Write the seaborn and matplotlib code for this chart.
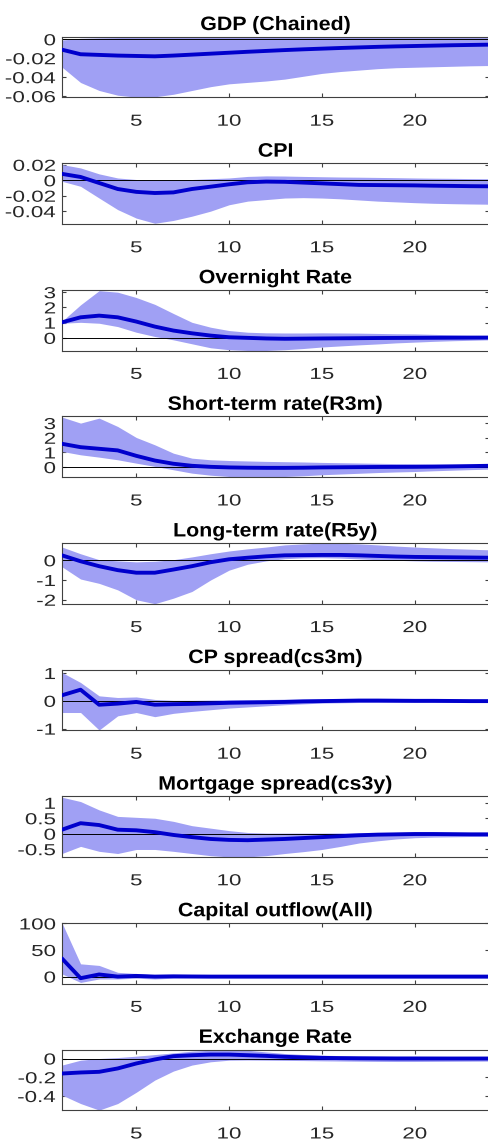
import numpy as np
import pandas as pd
import matplotlib
matplotlib.use("Agg")
import matplotlib.pyplot as plt
from matplotlib.patheffects import AbstractPathEffect
from matplotlib.transforms import Affine2D
from matplotlib.ticker import FuncFormatter
import seaborn as sns

# ---------------------------------------------------------------- data
horizon = list(range(1, 25))

titles = [
    "GDP (Chained)", "CPI", "Overnight Rate", "Short-term rate(R3m)",
    "Long-term rate(R5y)", "CP spread(cs3m)", "Mortgage spread(cs3y)",
    "Capital outflow(All)", "Exchange Rate",
]

gdp_mid = [-0.011, -0.0158, -0.0165, -0.0172, -0.0176, -0.018, -0.0172, -0.0162,
           -0.0152, -0.0142, -0.0132, -0.0123, -0.0114, -0.0106, -0.0099, -0.0092,
           -0.0086, -0.008, -0.0075, -0.0071, -0.0067, -0.0063, -0.006, -0.0057]
gdp_lo = [-0.0294, -0.0456, -0.054, -0.059, -0.061, -0.0607, -0.058, -0.054,
          -0.050, -0.047, -0.0455, -0.044, -0.042, -0.039, -0.036, -0.034,
          -0.0325, -0.031, -0.030, -0.0295, -0.029, -0.0285, -0.028, -0.0277]
gdp_hi = [-0.0008, 0.001, 0.0015, 0.0018, 0.002, 0.002, 0.002, 0.002,
          0.002, 0.0022, 0.0022, 0.0023, 0.0024, 0.0024, 0.0025, 0.0025,
          0.0025, 0.0024, 0.0024, 0.0023, 0.0023, 0.0022, 0.0022, 0.0021]

cpi_mid = [0.0083, 0.0043, -0.0035, -0.0113, -0.015, -0.0165, -0.0157, -0.0113,
           -0.0083, -0.0052, -0.0026, -0.0017, -0.002, -0.003, -0.004, -0.005,
           -0.006, -0.0062, -0.0064, -0.0066, -0.007, -0.0073, -0.0076, -0.0078]
cpi_lo = [-0.0013, -0.0078, -0.023, -0.038, -0.049, -0.0557, -0.052, -0.0465,
          -0.040, -0.0317, -0.027, -0.025, -0.023, -0.0225, -0.023, -0.024,
          -0.0255, -0.027, -0.028, -0.029, -0.0298, -0.0303, -0.0307, -0.031]
cpi_hi = [0.0204, 0.016, 0.0083, 0.003, 0.001, 0.0, 0.0005, 0.001,
          0.002, 0.003, 0.005, 0.0057, 0.0055, 0.005, 0.0046, 0.0042,
          0.004, 0.0037, 0.0034, 0.003, 0.0027, 0.0025, 0.0022, 0.002]

onr_mid = [1.02, 1.35, 1.46, 1.35, 1.07, 0.74, 0.48, 0.30, 0.15, 0.04, 0.0, -0.04,
           -0.06, -0.05, -0.04, -0.03, -0.02, -0.01, -0.005, 0.0, 0.005, 0.01, 0.015, 0.02]
onr_lo = [0.96, 1.02, 0.96, 0.74, 0.37, 0.09, -0.13, -0.39, -0.65, -0.78, -0.83, -0.83,
          -0.78, -0.7, -0.6, -0.53, -0.46, -0.4, -0.33, -0.28, -0.23, -0.19, -0.16, -0.13]
onr_hi = [1.09, 2.17, 3.1, 3.0, 2.65, 2.2, 1.6, 1.02, 0.7, 0.48, 0.37, 0.33,
          0.32, 0.32, 0.33, 0.32, 0.31, 0.29, 0.27, 0.26, 0.23, 0.2, 0.17, 0.15]

r3m_mid = [1.59, 1.36, 1.25, 1.14, 0.77, 0.45, 0.23, 0.09, 0.02, -0.02, -0.04, -0.05,
           -0.05, -0.04, -0.02, -0.01, 0.0, 0.01, 0.015, 0.02, 0.03, 0.05, 0.07, 0.09]
r3m_lo = [1.07, 0.84, 0.68, 0.5, 0.27, 0.05, -0.18, -0.41, -0.55, -0.64, -0.66, -0.66,
          -0.64, -0.59, -0.52, -0.47, -0.42, -0.37, -0.33, -0.3, -0.25, -0.21, -0.17, -0.14]
r3m_hi = [3.41, 3.0, 3.34, 2.77, 2.02, 1.52, 0.95, 0.61, 0.5, 0.45, 0.42, 0.39,
          0.37, 0.35, 0.32, 0.3, 0.28, 0.26, 0.24, 0.23, 0.22, 0.2, 0.19, 0.18]

r5y_mid = [0.25, -0.05, -0.3, -0.5, -0.63, -0.63, -0.47, -0.3, -0.1, 0.05, 0.13, 0.2,
           0.25, 0.26, 0.27, 0.27, 0.25, 0.22, 0.19, 0.17, 0.16, 0.15, 0.14, 0.13]
r5y_lo = [-0.33, -0.95, -1.17, -1.5, -2.0, -2.2, -1.92, -1.58, -1.0, -0.5, -0.2, -0.03,
          0.08, 0.12, 0.13, 0.11, 0.07, 0.03, 0.0, -0.03, -0.05, -0.06, -0.07, -0.08]
r5y_hi = [0.67, 0.33, 0.03, -0.03, -0.08, -0.05, 0.03, 0.17, 0.33, 0.47, 0.58, 0.67,
          0.78, 0.83, 0.87, 0.86, 0.83, 0.78, 0.72, 0.67, 0.63, 0.59, 0.56, 0.53]

cp_mid = [0.2, 0.4, -0.14, -0.1, -0.04, -0.14, -0.12, -0.11, -0.09, -0.07, -0.06, -0.05,
          -0.04, -0.02, -0.01, 0.0, 0.01, 0.01, 0.005, 0.0, 0.0, -0.005, -0.01, -0.01]
cp_lo = [-0.42, -0.42, -1.05, -0.54, -0.42, -0.57, -0.45, -0.38, -0.32, -0.26, -0.22, -0.18,
         -0.14, -0.11, -0.08, -0.07, -0.06, -0.06, -0.06, -0.06, -0.06, -0.06, -0.06, -0.06]
cp_hi = [1.02, 0.66, 0.18, 0.12, 0.14, 0.05, 0.02, 0.02, 0.03, 0.04, 0.045, 0.05,
         0.06, 0.065, 0.07, 0.07, 0.07, 0.07, 0.07, 0.07, 0.065, 0.06, 0.055, 0.05]

mtg_mid = [0.13, 0.34, 0.28, 0.13, 0.11, 0.05, -0.04, -0.11, -0.17, -0.2, -0.21, -0.19,
           -0.17, -0.14, -0.11, -0.08, -0.05, -0.03, -0.02, -0.01, -0.01, -0.015, -0.02, -0.02]
mtg_lo = [-0.64, -0.41, -0.57, -0.64, -0.51, -0.51, -0.57, -0.64, -0.71, -0.75, -0.75, -0.71,
          -0.64, -0.58, -0.51, -0.41, -0.3, -0.23, -0.17, -0.13, -0.11, -0.1, -0.09, -0.09]
mtg_hi = [1.18, 1.04, 0.77, 0.56, 0.53, 0.5, 0.4, 0.26, 0.18, 0.1, 0.04, 0.02,
          0.02, 0.02, 0.02, 0.025, 0.03, 0.03, 0.04, 0.05, 0.05, 0.045, 0.04, 0.04]

cap_mid = [34, -3, 4, 0, 1.3, 0, 0.5, 0.2, 0, 0, 0, 0,
           0, 0, 0, 0, 0, 0, 0, 0, 0, 0, 0, 0]
cap_lo = [5, -11, -4.5, -4.5, -3, -4.5, -3, -2.5, -2.5, -2.5, -2.5, -2.5,
          -2.5, -2.5, -2.5, -2.5, -2.5, -2.5, -2.5, -2.5, -2.5, -2.5, -2.5, -2.5]
cap_hi = [101, 24, 21, 8, 5.8, 3.2, 3, 3, 3, 3, 3, 3,
          3, 3, 3, 3, 3, 3, 3, 3, 3, 3, 3, 3]

fx_mid = [-0.16, -0.149, -0.142, -0.106, -0.053, -0.01, 0.025, 0.035, 0.042, 0.042, 0.035, 0.028,
          0.018, 0.012, 0.007, 0.004, 0.002, 0.001, 0.0, 0.0, 0.0, 0.0, 0.0, 0.0]
fx_lo = [-0.39, -0.48, -0.55, -0.48, -0.36, -0.23, -0.134, -0.07, -0.035, -0.018, -0.016, -0.018,
         -0.02, -0.022, -0.025, -0.027, -0.029, -0.031, -0.032, -0.032, -0.031, -0.03, -0.029, -0.028]
fx_hi = [-0.07, -0.018, 0.0, 0.01, 0.025, 0.042, 0.06, 0.078, 0.088, 0.095, 0.088, 0.07,
         0.053, 0.043, 0.035, 0.031, 0.028, 0.026, 0.025, 0.025, 0.023, 0.021, 0.019, 0.018]

mids = [gdp_mid, cpi_mid, onr_mid, r3m_mid, r5y_mid, cp_mid, mtg_mid, cap_mid, fx_mid]
lows = [gdp_lo, cpi_lo, onr_lo, r3m_lo, r5y_lo, cp_lo, mtg_lo, cap_lo, fx_lo]
highs = [gdp_hi, cpi_hi, onr_hi, r3m_hi, r5y_hi, cp_hi, mtg_hi, cap_hi, fx_hi]

y_limits = [(-0.0612, 0.0027), (-0.0565, 0.022), (-0.83, 3.15), (-0.68, 3.45),
            (-2.2, 0.87), (-1.06, 1.12), (-0.75, 1.21), (-13, 101), (-0.55, 0.096)]
y_ticks = [[-0.06, -0.04, -0.02, 0], [-0.04, -0.02, 0, 0.02], [0, 1, 2, 3], [0, 1, 2, 3],
           [-2, -1, 0], [-1, 0, 1], [-0.5, 0, 0.5, 1], [0, 50, 100], [-0.4, -0.2, 0]]
x_ticks = [5, 10, 15, 20]


# ---------------------------------------------------------------- styling helpers
class Widen(AbstractPathEffect):
    """Draw text glyphs horizontally widened about a fixed anchor."""

    def __init__(self, factor, anchor="center"):
        super().__init__()
        self.factor = factor
        self.anchor = anchor

    def draw_path(self, renderer, gc, tpath, affine, rgbFace=None):
        ext = tpath.get_extents()
        if self.anchor == "right":
            x0 = ext.x1
        elif self.anchor == "left":
            x0 = ext.x0
        else:
            x0 = 0.5 * (ext.x0 + ext.x1)
        stretch = Affine2D().translate(-x0, 0).scale(self.factor, 1.0).translate(x0, 0)
        renderer.draw_path(gc, tpath, stretch + affine, rgbFace)


def tick_fmt(v, _pos):
    s = f"{v:g}"
    return "0" if s in ("-0", "0") else s


sns.set_style("ticks")
plt.rcParams["font.family"] = ["Liberation Sans", "DejaVu Sans"]

BAND = "#a0a0f4"
LINE = "#0000cc"
TEXT_GREY = "#262626"
AXIS_GREY = "#404040"

W, H = 488, 1142
fig = plt.figure(figsize=(W / 100, H / 100), dpi=100)

left_px, right_px = 62.0, 489.0
top0_px, step_px, height_px = 36.7, 126.6, 60.6

for i in range(9):
    top_px = top0_px + i * step_px
    ax = fig.add_axes([left_px / W, 1 - (top_px + height_px) / H,
                       (right_px - left_px) / W, height_px / H])
    ax.fill_between(horizon, lows[i], highs[i], color=BAND, linewidth=0, zorder=1)
    ax.axhline(0, color="black", linewidth=0.7, zorder=2)
    df = pd.DataFrame({"h": horizon, "v": mids[i]})
    sns.lineplot(data=df, x="h", y="v", ax=ax, color=LINE, linewidth=2.8,
                 zorder=3, legend=False)

    ax.set_xlim(1, 24)
    ax.set_ylim(*y_limits[i])
    ax.set_xticks(x_ticks)
    ax.set_yticks(y_ticks[i])
    ax.yaxis.set_major_formatter(FuncFormatter(tick_fmt))
    ax.set_xlabel("")
    ax.set_ylabel("")

    for side in ("left", "right", "top", "bottom"):
        ax.spines[side].set_visible(True)
        ax.spines[side].set_color(AXIS_GREY)
        ax.spines[side].set_linewidth(0.8)
    ax.tick_params(axis="both", which="major", direction="in", length=3, width=0.8,
                   color=AXIS_GREY, labelcolor=TEXT_GREY, labelsize=11.5,
                   top=True, right=True)
    ax.tick_params(axis="x", pad=11.8)
    ax.tick_params(axis="y", pad=4.5)

    for lab in ax.get_yticklabels():
        lab.set_path_effects([Widen(1.4, "right")])
    for lab in ax.get_xticklabels():
        lab.set_path_effects([Widen(1.4, "center")])

    t = ax.set_title(titles[i], fontsize=14, fontweight="bold", color="black", pad=4.8)
    t.set_path_effects([Widen(1.1, "center")])

fig.savefig("out.png", dpi=100)
